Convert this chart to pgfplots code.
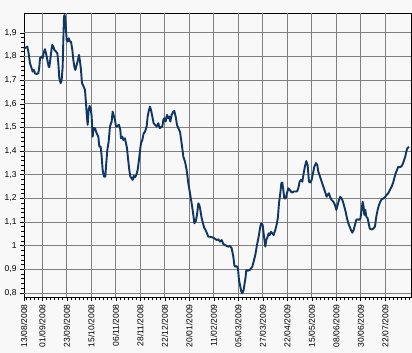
\documentclass[border=0pt]{standalone}
\usepackage{pgfplots}
\pgfplotsset{compat=1.18}
\usepackage{fontspec}
\setmainfont{Liberation Sans}
\definecolor{bgc}{RGB}{248,248,248}
\definecolor{gridc}{RGB}{128,128,128}
\definecolor{linec}{RGB}{16,54,100}
\begin{document}
\begin{tikzpicture}
\fill[bgc] (-24bp,-56bp) rectangle (388bp,297bp);
\useasboundingbox (-24bp,-56bp) rectangle (388bp,297bp);
\begin{axis}[
  at={(0,0)}, anchor=south west,
  scale only axis, width=387bp, height=284bp,
  xmin=0, xmax=252.8, ymin=0.783, ymax=1.984,
  axis line style={black, line width=0.8bp},
  xtick={0,12,28,44,60,76,92,108,124,140,156,172,188,204,220,236},
  xticklabels={13/08/2008,01/09/2008,23/09/2008,15/10/2008,06/11/2008,28/11/2008,22/12/2008,20/01/2009,11/02/2009,05/03/2009,27/03/2009,22/04/2009,15/05/2009,08/06/2009,30/06/2009,22/07/2009},
  minor xtick={1.3333,4,...,252},
  ytick={0.8,0.9,1.0,1.1,1.2,1.3,1.4,1.5,1.6,1.7,1.8,1.9},
  minor y tick num=4,
  /pgf/number format/use comma,
  /pgf/number format/assume math mode=true,
  xticklabel style={rotate=90, anchor=east, font=\fontsize{8.5bp}{9bp}\selectfont},
  yticklabel style={font=\fontsize{8.5bp}{9bp}\selectfont},
  tick align=outside,
  major tick length=4bp, minor tick length=2.5bp,
  every tick/.style={black, line width=0.6bp},
  xtick pos=bottom, ytick pos=left,
  clip=false,
]
\pgfplotsinvokeforeach{12,28,44,60,76,92,108,124,140,156,172,188,204,220,236}{
  \draw[gridc, line width=0.9bp] (axis cs:#1,0.783) -- (axis cs:#1,1.984);
}
\pgfplotsinvokeforeach{0.8,0.9,1.0,1.1,1.2,1.3,1.4,1.5,1.6,1.7,1.8,1.9}{
  \draw[gridc, line width=0.9bp] (axis cs:0,#1) -- (axis cs:252.8,#1);
}
\addplot[linec, line width=1.9bp, line join=round, mark=none] coordinates {
(0,1.832)(0.65,1.835)(2.18,1.842)(2.83,1.821)(3.92,1.771)(5.01,1.750)(5.66,1.736)(6.53,1.743)(7.18,1.729)(8.27,1.726)(9.36,1.729)(10.02,1.757)(10.45,1.793)(11.54,1.800)(12.19,1.793)(13.06,1.821)(13.72,1.831)(14.37,1.814)(15.24,1.786)(16.11,1.757)(16.55,1.755)(17.42,1.800)(18.07,1.835)(18.51,1.849)(19.16,1.842)(19.81,1.828)(20.90,1.821)(21.77,1.814)(22.43,1.771)(23.08,1.708)(23.95,1.687)(24.60,1.701)(25.26,1.757)(25.69,1.870)(26.13,1.969)(26.56,1.976)(27.22,1.934)(27.87,1.870)(28.52,1.863)(29.18,1.877)(30.05,1.863)(30.70,1.863)(31.57,1.828)(32.22,1.786)(32.88,1.757)(33.53,1.743)(34.40,1.764)(35.27,1.786)(35.92,1.807)(36.58,1.779)(37.23,1.743)(37.88,1.687)(38.76,1.676)(39.84,1.659)(40.50,1.602)(40.93,1.560)(41.59,1.511)(42.24,1.574)(42.89,1.591)(43.55,1.581)(44.20,1.546)(44.85,1.461)(45.50,1.497)(46.38,1.497)(47.46,1.475)(48.55,1.461)(49.21,1.419)(50.08,1.419)(50.73,1.377)(51.38,1.320)(52.25,1.292)(53.12,1.292)(53.56,1.334)(54.43,1.405)(55.30,1.440)(56.17,1.504)(57.26,1.525)(57.91,1.567)(58.79,1.546)(59.44,1.532)(60.09,1.504)(60.96,1.506)
(62.05,1.511)(62.92,1.490)(63.35,1.454)(64.22,1.461)(64.88,1.447)(65.97,1.454)(66.62,1.433)(67.28,1.412)(67.71,1.384)(68.15,1.356)(68.80,1.320)(69.45,1.292)(70.32,1.285)(70.98,1.278)(71.63,1.295)(72.50,1.289)(73.37,1.299)(74.24,1.320)(75.11,1.363)(75.98,1.412)(76.42,1.433)(77.29,1.447)(78.16,1.475)(79.03,1.482)(80.12,1.504)(80.77,1.546)(81.64,1.574)(82.30,1.588)(82.95,1.574)(83.82,1.546)(84.69,1.518)(85.56,1.511)(86.65,1.504)(87.74,1.518)(88.61,1.497)(89.48,1.501)(90.35,1.504)(91.01,1.532)(91.66,1.539)(92.53,1.525)(93.40,1.553)(94.27,1.539)(94.93,1.546)(95.58,1.525)(96.45,1.553)(97.54,1.567)(98.19,1.570)(99.07,1.546)(99.94,1.511)(100.81,1.497)(101.90,1.482)(102.98,1.433)(104.07,1.377)(105.16,1.356)(106.25,1.320)(107.34,1.264)(108.43,1.222)(109.52,1.179)(110.61,1.130)(111.27,1.095)(112.14,1.102)(113.01,1.130)(113.88,1.179)(114.53,1.172)(115.19,1.151)(116.06,1.116)(116.92,1.095)(117.79,1.074)(118.66,1.066)(119.53,1.052)(120.40,1.038)
(121.49,1.038)(123.67,1.034)(125.85,1.024)(126.93,1.027)(128.02,1.017)(129.11,1.024)(130.20,1.007)(131.29,1.003)(132.38,0.999)(133.46,0.996)(134.55,0.999)(135.64,0.989)(136.73,0.954)(137.38,0.918)(138.04,0.911)(138.91,0.914)(139.78,0.904)(140.43,0.855)(141.30,0.827)(141.96,0.806)(142.61,0.799)(143.48,0.813)(144.13,0.841)(144.79,0.869)(145.22,0.897)(146.09,0.894)(147.40,0.897)(148.27,0.904)(149.14,0.911)(150.01,0.933)(151.10,0.961)(152.19,1.003)(153.28,1.038)(154.36,1.081)(155.02,1.095)(155.89,1.088)(156.54,1.052)(157.19,1.017)(157.63,0.996)(158.28,1.024)(159.15,1.038)(159.81,1.052)(160.46,1.045)(161.33,1.059)(162.20,1.052)(163.07,1.045)(164.16,1.066)(165.25,1.095)(165.90,1.123)(166.56,1.179)(167.43,1.222)(168.08,1.264)(168.73,1.267)(169.39,1.236)(170.04,1.200)(170.91,1.200)(171.78,1.222)(172.65,1.243)(173.52,1.236)(174.39,1.229)(175.27,1.224)(176.14,1.229)(177.23,1.229)(178.32,1.229)(179.19,1.243)(180.06,1.271)(180.93,1.278)(181.80,1.271)(182.67,1.306)
(183.54,1.336)(184.41,1.358)(185.28,1.340)(186.15,1.271)(187.02,1.267)(187.89,1.278)(188.76,1.306)(189.64,1.334)(190.72,1.349)(191.59,1.341)(192.25,1.313)(193.34,1.292)(194.43,1.271)(195.52,1.250)(196.60,1.229)(197.69,1.207)(198.35,1.215)(199.22,1.222)(199.87,1.207)(200.96,1.193)(202.05,1.186)(203.14,1.172)(204.01,1.151)(204.88,1.172)(205.75,1.193)(206.62,1.207)(207.49,1.200)(208.36,1.186)(209.23,1.165)(210.10,1.144)(210.97,1.116)(211.84,1.095)(212.71,1.081)(213.58,1.066)(214.45,1.055)(215.32,1.066)(216.20,1.088)(217.07,1.109)(217.94,1.112)(218.81,1.109)(219.68,1.112)(220.55,1.151)(221.20,1.186)(221.86,1.165)(222.29,1.130)(222.95,1.151)(223.60,1.123)(224.47,1.116)(225.12,1.095)(225.78,1.074)(226.65,1.069)(227.52,1.069)(228.39,1.074)(229.26,1.081)(230.13,1.123)(231.00,1.151)(231.87,1.172)(232.74,1.186)(233.62,1.196)(234.92,1.200)(235.79,1.205)(236.88,1.215)(237.97,1.222)(239.06,1.236)(240.15,1.250)(241.02,1.264)(241.89,1.285)(242.76,1.306)(243.64,1.320)(244.51,1.334)(245.38,1.332)(246.25,1.334)(247.12,1.341)(247.99,1.356)(249.08,1.377)(249.74,1.398)(250.39,1.412)(251.5,1.418)
};
\end{axis}
\end{tikzpicture}
\end{document}
